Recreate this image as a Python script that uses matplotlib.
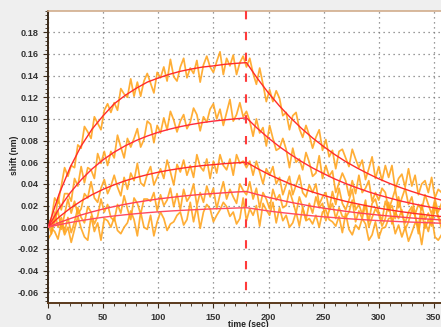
import numpy as np
import matplotlib
matplotlib.use('Agg')
import matplotlib.pyplot as plt
from matplotlib.ticker import MultipleLocator, FormatStrFormatter

plt.rcParams['font.family'] = ['Liberation Sans', 'DejaVu Sans']
plt.rcParams['axes.unicode_minus'] = False

# time axis of the raw traces (sec) and of the fitted curves
t = np.arange(0, 360, 3)
t_fit = np.arange(0, 361, 10)
t_switch = 180

# raw binding traces, shift in 1/1000 nm
trace1 = [5, 7, 27, 22, 38, 55, 47, 57, 55, 76,
          73, 93, 88, 82, 102, 96, 90, 108, 114, 106,
          115, 108, 128, 123, 120, 137, 121, 134, 121, 135,
          142, 133, 124, 143, 138, 148, 135, 155, 139, 135,
          148, 156, 138, 147, 142, 154, 134, 150, 158, 148,
          143, 153, 162, 141, 156, 149, 159, 141, 152, 158,
          148, 156, 142, 132, 147, 132, 116, 127, 116, 126,
          119, 103, 106, 90, 103, 106, 91, 83, 94, 85,
          73, 83, 90, 71, 81, 65, 71, 54, 70, 72,
          64, 56, 72, 63, 55, 62, 44, 54, 65, 45,
          56, 43, 57, 46, 57, 35, 45, 49, 37, 54,
          38, 48, 30, 40, 43, 32, 46, 27, 35, 32]
trace2 = [-1, 6, 4, 27, 16, 31, 31, 24, 45, 38,
          56, 41, 55, 53, 45, 68, 59, 70, 57, 70,
          64, 85, 74, 64, 82, 74, 82, 91, 74, 81,
          98, 95, 78, 94, 87, 101, 90, 107, 99, 88,
          98, 104, 91, 97, 110, 104, 89, 102, 97, 109,
          114, 100, 109, 94, 106, 118, 98, 104, 115, 102,
          107, 98, 84, 100, 87, 92, 75, 94, 82, 71,
          73, 82, 72, 55, 73, 60, 63, 53, 69, 60,
          47, 50, 66, 45, 57, 47, 52, 32, 41, 50,
          43, 29, 43, 31, 48, 32, 36, 43, 24, 32,
          25, 36, 32, 16, 25, 35, 18, 27, 36, 21,
          28, 12, 21, 16, 30, 21, 12, 26, 14, 22]
trace3 = [4, -6, 7, 15, -2, 12, 26, 13, 24, 12,
          17, 31, 27, 42, 27, 23, 36, 44, 31, 38,
          48, 37, 29, 46, 35, 50, 43, 59, 41, 38,
          49, 56, 39, 46, 54, 45, 62, 51, 39, 58,
          51, 62, 48, 57, 46, 67, 56, 52, 63, 45,
          61, 50, 67, 57, 53, 63, 48, 67, 59, 61,
          55, 61, 48, 61, 51, 40, 54, 48, 56, 40,
          46, 30, 39, 47, 30, 39, 48, 32, 28, 39,
          32, 40, 21, 28, 32, 16, 33, 21, 36, 22,
          16, 25, 35, 16, 21, 12, 25, 5, 22, 26,
          14, 6, 24, 15, 20, 8, 28, 12, 4, 14,
          19, 10, 0, 21, 7, 13, 3, 22, 10, 4]
trace4 = [-11, -6, 14, 0, 9, -4, 9, -5, 5, 18,
          9, 4, 19, 14, 3, 10, 26, 14, 21, 9,
          6, 21, 13, 29, 17, 7, 27, 22, 12, 26,
          26, 24, 32, 15, 30, 20, 25, 36, 19, 31,
          16, 35, 24, 29, 40, 20, 32, 23, 38, 28,
          36, 17, 30, 42, 26, 35, 28, 22, 40, 34,
          30, 42, 26, 36, 18, 32, 26, 17, 35, 25,
          30, 18, 20, 34, 24, 13, 28, 18, 7, 22,
          13, 28, 18, 22, 6, 15, 22, 8, 18, 10,
          9, 14, 25, 5, 15, 8, 21, 0, 9, 17,
          12, 1, 8, 23, 3, 14, 8, 16, -2, 5,
          16, 11, -6, 13, -1, 7, 1, 19, 9, -1]
trace5 = [5, -1, -4, -11, 4, -7, 0, -14, -2, 10,
          -1, -9, -12, 10, -4, 4, -12, 8, 6, 0,
          9, -3, -6, 0, 4, 15, 7, -8, 14, 0,
          -2, 11, -8, 5, 14, 8, -3, 3, 5, 11,
          14, 2, 7, 23, 5, 19, -1, 14, 21, 17,
          5, 11, 16, 23, 19, 10, 14, 3, 8, 27,
          6, 17, 11, 20, 1, 22, 16, 11, 23, 4,
          18, 6, 11, 0, 4, 14, 1, 18, 6, 8,
          3, 11, 0, 14, 16, 7, 5, 1, 10, -5,
          13, -2, -7, 2, -2, 8, 3, -12, -7, 5,
          -10, -1, 0, 8, 9, -6, 2, -9, 0, -13,
          -5, 4, 2, -16, 5, -4, 10, -9, -12, -7]

# fitted association / dissociation curves (nm), every 10 sec
fit1 = [0, 0.0306, 0.0552, 0.0750, 0.0907, 0.1030, 0.1140, 0.1218, 0.1283, 0.1340,
        0.1378, 0.1412, 0.1440, 0.1461, 0.1479, 0.1490, 0.1504, 0.1513, 0.1520,
        0.1373, 0.1239, 0.1119, 0.1011, 0.0912, 0.0824, 0.0745, 0.0672, 0.0606,
        0.0549, 0.0496, 0.0447, 0.0404, 0.0365, 0.0330, 0.0298, 0.0269, 0.0242]
fit2 = [0, 0.0173, 0.0317, 0.0438, 0.0539, 0.0623, 0.0693, 0.0752, 0.0801, 0.0842,
        0.0877, 0.0905, 0.0929, 0.0949, 0.0966, 0.0980, 0.0991, 0.1001, 0.1010,
        0.0912, 0.0823, 0.0743, 0.0672, 0.0606, 0.0547, 0.0495, 0.0446, 0.0403,
        0.0365, 0.0329, 0.0297, 0.0269, 0.0242, 0.0219, 0.0198, 0.0179, 0.0161]
fit3 = [0, 0.0094, 0.0174, 0.0242, 0.0301, 0.0350, 0.0392, 0.0429, 0.0459, 0.0485,
        0.0508, 0.0527, 0.0543, 0.0557, 0.0569, 0.0578, 0.0587, 0.0594, 0.0600,
        0.0542, 0.0489, 0.0442, 0.0399, 0.0360, 0.0325, 0.0294, 0.0265, 0.0239,
        0.0217, 0.0196, 0.0176, 0.0160, 0.0144, 0.0130, 0.0118, 0.0106, 0.0095]
fit4 = [0, 0.0042, 0.0079, 0.0113, 0.0142, 0.0168, 0.0191, 0.0212, 0.0230, 0.0246,
        0.0261, 0.0273, 0.0285, 0.0295, 0.0304, 0.0311, 0.0318, 0.0325, 0.0330,
        0.0302, 0.0276, 0.0252, 0.0230, 0.0211, 0.0192, 0.0176, 0.0161, 0.0147,
        0.0134, 0.0123, 0.0112, 0.0103, 0.0094, 0.0085, 0.0078, 0.0072, 0.0065]
fit5 = [0, 0.0023, 0.0043, 0.0061, 0.0077, 0.0092, 0.0104, 0.0115, 0.0125, 0.0134,
        0.0142, 0.0149, 0.0155, 0.0160, 0.0165, 0.0170, 0.0173, 0.0177, 0.0180,
        0.0165, 0.0150, 0.0137, 0.0126, 0.0115, 0.0105, 0.0096, 0.0088, 0.0080,
        0.0073, 0.0067, 0.0061, 0.0056, 0.0051, 0.0047, 0.0043, 0.0039, 0.0036]

traces = [trace1, trace2, trace3, trace4, trace5]
fits = [fit1, fit2, fit3, fit4, fit5]
fit_colors = ['#ff2a2a', '#ff2a3a', '#ff2a2a', '#ff4055', '#ff4a60']

fig = plt.figure(figsize=(4.41, 3.27), dpi=100, facecolor='#efefef')
ax = fig.add_axes([0.109, 0.0734, 0.891, 0.894])
ax.set_facecolor('white')

for tr in traces:
    ax.plot(t, np.array(tr) / 1000.0, color='#ffa31a', lw=1.25, alpha=0.88, zorder=2)
for f, c in zip(fits, fit_colors):
    ax.plot(t_fit, f, color=c, lw=1.0, zorder=3)

ymin, ymax = -0.07, 0.2
# dashed marker where buffer switches, dashes starting at the top edge
ax.plot([t_switch, t_switch], [ymax, ymin], color='#ff3b3b', lw=1.5,
        dashes=(4, 6), zorder=4, clip_on=False)

ax.set_xlim(0, 356.5)
ax.set_ylim(ymin, ymax)
ax.xaxis.set_major_locator(MultipleLocator(50))
ax.xaxis.set_minor_locator(MultipleLocator(10))
ax.yaxis.set_major_locator(MultipleLocator(0.02))
ax.yaxis.set_minor_locator(MultipleLocator(0.004))
ax.yaxis.set_major_formatter(FormatStrFormatter('%.2f'))
ax.set_yticks([v / 100 for v in range(-6, 19, 2)])

ax.grid(True, which='major', color='#7a7a7a', lw=0.9, linestyle=(0, (1, 3)))
ax.set_axisbelow(True)

ax.tick_params(axis='both', which='major', direction='out', length=3.5, width=0.8,
               color='#3a2a1a', labelsize=6.6, labelcolor='#333333', pad=3.5)
ax.tick_params(axis='both', which='minor', direction='out', length=2, width=0.6,
               color='#3a2a1a')
for lab in ax.get_xticklabels() + ax.get_yticklabels():
    lab.set_fontweight('bold')

ax.spines['left'].set_color('#3a2a1a')
ax.spines['left'].set_linewidth(1.4)
ax.spines['bottom'].set_color('#5a3a1c')
ax.spines['bottom'].set_linewidth(1.4)
ax.spines['top'].set_color('#d2ad8c')
ax.spines['top'].set_linewidth(1.2)
ax.spines['right'].set_visible(False)

ax.set_xlabel('time (sec)', fontsize=6.2, fontweight='bold', color='#222222')
ax.set_ylabel('shift (nm)', fontsize=6.2, fontweight='bold', color='#222222')
ax.xaxis.set_label_coords(0.509, -0.058)
ax.yaxis.set_label_coords(-0.074, 0.506)

fig.savefig('out.png', dpi=100, facecolor=fig.get_facecolor())
